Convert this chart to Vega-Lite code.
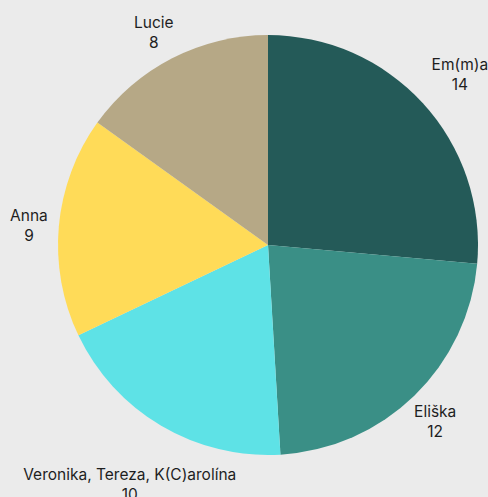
{
  "$schema": "https://vega.github.io/schema/vega-lite/v6.json",
  "width": 440,
  "height": 490,
  "autosize": {"type": "none"},
  "padding": {"left": 48, "top": 0, "right": 0, "bottom": 7},
  "background": "#ebebeb",
  "config": {"view": {"stroke": null}},
  "data": {
    "values": [
      {"name": "Em(m)a", "count": 14, "ord": 1},
      {"name": "Eliška", "count": 12, "ord": 2},
      {"name": "Veronika, Tereza, K(C)arolína", "count": 10, "ord": 3},
      {"name": "Anna", "count": 9, "ord": 4},
      {"name": "Lucie", "count": 8, "ord": 5}
    ]
  },
  "transform": [
    {"calculate": "[datum.name, '' + datum.count]", "as": "label"}
  ],
  "encoding": {
    "theta": {"field": "count", "type": "quantitative", "stack": true},
    "order": {"field": "ord", "type": "quantitative"},
    "color": {
      "field": "name",
      "type": "nominal",
      "scale": {
        "domain": ["Em(m)a", "Eliška", "Veronika, Tereza, K(C)arolína", "Anna", "Lucie"],
        "range": ["#245a58", "#3a8f86", "#5ee2e6", "#ffdb58", "#b6a886"]
      },
      "legend": null
    }
  },
  "layer": [
    {"mark": {"type": "arc", "outerRadius": 210}},
    {
      "mark": {"type": "text", "radius": 260, "dy": -5, "fontSize": 15.5, "font": "Inter", "lineHeight": 20, "align": "center", "baseline": "middle"},
      "encoding": {
        "text": {"field": "label"},
        "color": {"value": "#1e1e1e"},
        "opacity": {"condition": {"test": "datum.name === 'Em(m)a'", "value": 1}, "value": 0}
      }
    },
    {
      "mark": {"type": "text", "radius": 264, "dx": -4, "dy": 3, "fontSize": 15.5, "font": "Inter", "lineHeight": 20, "align": "center", "baseline": "middle"},
      "encoding": {
        "text": {"field": "label"},
        "color": {"value": "#1e1e1e"},
        "opacity": {"condition": {"test": "datum.name === 'Veronika, Tereza, K(C)arolína'", "value": 1}, "value": 0}
      }
    },
    {
      "mark": {"type": "text", "radius": 250, "fontSize": 15.5, "font": "Inter", "lineHeight": 20, "align": "center", "baseline": "middle"},
      "encoding": {
        "text": {"field": "label"},
        "color": {"value": "#1e1e1e"},
        "opacity": {"condition": {"test": "datum.name === 'Lucie'", "value": 1}, "value": 0}
      }
    },
    {
      "mark": {"type": "text", "radius": 240, "dy": -8, "fontSize": 15.5, "font": "Inter", "lineHeight": 20, "align": "center", "baseline": "middle"},
      "encoding": {
        "text": {"field": "label"},
        "color": {"value": "#1e1e1e"},
        "opacity": {"condition": {"test": "datum.name === 'Anna'", "value": 1}, "value": 0}
      }
    },
    {
      "mark": {"type": "text", "radius": 240, "dy": -5, "fontSize": 15.5, "font": "Inter", "lineHeight": 20, "align": "center", "baseline": "middle"},
      "encoding": {
        "text": {"field": "label"},
        "color": {"value": "#1e1e1e"},
        "opacity": {"condition": {"test": "datum.name === 'Eliška'", "value": 1}, "value": 0}
      }
    }
  ]
}
